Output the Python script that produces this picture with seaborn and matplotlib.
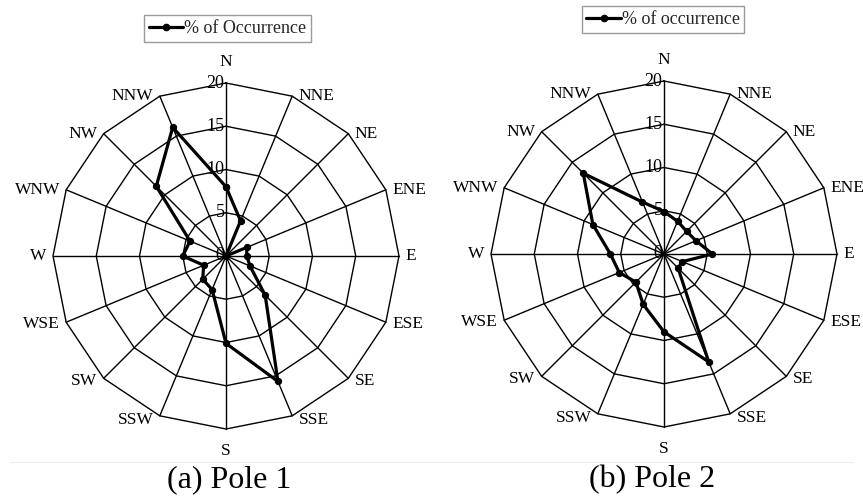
import numpy as np
import pandas as pd
import matplotlib
matplotlib.use("Agg")
import matplotlib.pyplot as plt
from matplotlib.lines import Line2D
import seaborn as sns

directions = ["N", "NNE", "NE", "ENE", "E", "ESE", "SE", "SSE",
              "S", "SSW", "SW", "WSE", "W", "WNW", "NW", "NNW"]
pole1 = [8.0, 4.4, 0.0, 2.6, 2.4, 3.0, 6.4, 15.7,
         10.1, 4.2, 3.8, 2.8, 5.0, 4.5, 11.4, 16.1]
pole2 = [4.9, 4.1, 3.7, 4.0, 5.6, 2.3, 2.3, 13.5,
         9.0, 6.3, 4.6, 5.6, 6.2, 8.9, 13.2, 6.5]
ring_levels = [5, 10, 15, 20]
radial_labels = ["0", "5", "10", "15", "20"]
legend_labels = ["% of Occurrence", "% of occurrence"]
captions = ["(a) Pole 1", "(b) Pole 2"]

sns.set_theme(style="white")
plt.rcParams["font.family"] = ["Liberation Serif", "DejaVu Serif"]

W, H = 863, 497
fig = plt.figure(figsize=(W / 100, H / 100), dpi=100)

n = len(directions)
theta = np.arange(n) * 2 * np.pi / n
theta_closed = np.append(theta, 2 * np.pi)

# axes boxes in pixels: (left, top, size)
boxes = [(53, 83, 346), (491, 81, 346)]
legend_centers = [(227.5, 28.5), (663, 19.5)]
caption_centers = [(229, 480), (652, 480)]

for i, vals in enumerate([pole1, pole2]):
    left, top, size = boxes[i]
    ax = fig.add_axes([left / W, 1 - (top + size) / H, size / W, size / H],
                      projection="polar")
    ax.set_theta_zero_location("N")
    ax.set_theta_direction(-1)
    ax.set_ylim(0, 20)
    ax.grid(False)
    ax.set_xticks([])
    ax.set_yticks([])
    ax.spines["polar"].set_visible(False)
    ax.set_facecolor("white")

    # polygon rings
    for lv in ring_levels:
        ax.plot(theta_closed, [lv] * len(theta_closed), color="black",
                lw=1.0, clip_on=False, zorder=1)
    # spokes
    for t in theta:
        ax.plot([t, t], [0, 20], color="black", lw=1.0, clip_on=False, zorder=1)

    df = pd.DataFrame({"theta": theta_closed,
                       "value": list(vals) + [vals[0]]})
    sns.lineplot(data=df, x="theta", y="value", sort=False, estimator=None,
                 ax=ax, color="black", linewidth=2.3, marker="o",
                 markersize=4.5, markeredgecolor="black", legend=False,
                 zorder=3)
    ax.set_xlabel("")
    ax.set_ylabel("")
    ax.set_xticks([])
    ax.set_yticks([])
    ax.set_ylim(0, 20)

    # radial labels
    for lab, r in zip(radial_labels, [0] + ring_levels):
        ax.annotate(lab, xy=(0, r), xytext=(-1, 0), textcoords="offset points",
                    ha="right", va="center", fontsize=13, color="black",
                    annotation_clip=False, zorder=2)

    # direction labels
    for t, lab in zip(theta, directions):
        deg = np.degrees(t) % 360
        cy = np.cos(t)
        if deg == 0:
            ha, va, off = "center", "bottom", (0, 9)
        elif deg == 180:
            ha, va, off = "center", "top", (0, -10)
        elif deg < 180:
            ha, va, off = "left", "center", (4.5, -3 * max(0, -cy))
        else:
            ha, va, off = "right", "center", (-4.5, -3 * max(0, -cy))
        ax.annotate(lab, xy=(t, 20), xytext=off, textcoords="offset points",
                    ha=ha, va=va, fontsize=12.5, color="black",
                    annotation_clip=False)

    handle = Line2D([], [], color="black", lw=2.3, marker="o", markersize=4.5)
    lx, ly = legend_centers[i]
    leg = ax.legend([handle], [legend_labels[i]], loc="center",
                    bbox_to_anchor=(lx / W, 1 - ly / H),
                    bbox_transform=fig.transFigure, frameon=True,
                    fancybox=False, framealpha=1, edgecolor="#9a9a9a",
                    fontsize=13, handlelength=1.9, handletextpad=0.05,
                    borderpad=0.25, borderaxespad=0)
    leg.get_frame().set_linewidth(1.0)

    cx, cyy = caption_centers[i]
    fig.text(cx / W, 1 - cyy / H, captions[i], ha="center", va="center",
             fontsize=23, color="black")

fig.add_artist(Line2D([10 / W, 853 / W], [1 - 462 / H, 1 - 462 / H],
                      color="#eeeeee", lw=0.8))

fig.savefig("out.png", dpi=100, facecolor="white")
